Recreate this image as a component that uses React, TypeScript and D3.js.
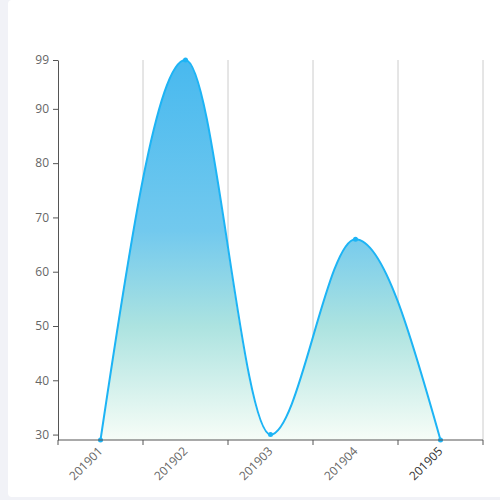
import React, { useEffect, useRef } from "react";
import * as d3 from "d3";

const categories = ["201901", "201902", "201903", "201904", "201905"];
const values = [29, 99, 30, 66, 29];
const yTicks = [30, 40, 50, 60, 70, 80, 90, 99];

const App: React.FC = () => {
  const ref = useRef<SVGSVGElement>(null);

  useEffect(() => {
    const root = d3.select(ref.current);
    root.selectAll("*").remove();

    const W = 500;
    const H = 500;
    const margin = { top: 60, right: 17, bottom: 60, left: 58 };
    const width = W - margin.left - margin.right;
    const height = H - margin.top - margin.bottom;

    // page background + card
    root.append("rect").attr("width", W).attr("height", H).attr("fill", "#f1f2f7");
    root
      .append("rect")
      .attr("x", 8)
      .attr("y", 0)
      .attr("width", 500)
      .attr("height", 497)
      .attr("rx", 4)
      .attr("fill", "#ffffff");

    const defs = root.append("defs");
    const grad = defs
      .append("linearGradient")
      .attr("id", "areaFill")
      .attr("x1", 0)
      .attr("y1", 0)
      .attr("x2", 0)
      .attr("y2", 1);
    grad.append("stop").attr("offset", "0%").attr("stop-color", "#48b9ef");
    grad.append("stop").attr("offset", "45%").attr("stop-color", "#72c9ee");
    grad.append("stop").attr("offset", "70%").attr("stop-color", "#ace3e0");
    grad.append("stop").attr("offset", "100%").attr("stop-color", "#f7fdf7");

    const svg = root
      .append("g")
      .attr("transform", `translate(${margin.left},${margin.top})`);

    const xScale = d3.scaleBand().domain(categories).range([0, width]).padding(0);
    const yScale = d3.scaleLinear().domain([29, 99]).range([height, 0]);

    // vertical grid lines at band boundaries
    svg
      .append("g")
      .selectAll("line")
      .data(categories)
      .join("line")
      .attr("x1", (d) => (xScale(d) as number) + xScale.bandwidth())
      .attr("x2", (d) => (xScale(d) as number) + xScale.bandwidth())
      .attr("y1", 0)
      .attr("y2", height)
      .attr("stroke", "#cccccc")
      .attr("stroke-width", 1);

    const cx = (d: number, i: number) =>
      (xScale(categories[i]) as number) + xScale.bandwidth() / 2;

    const area = d3
      .area<number>()
      .x((d, i) => cx(d, i))
      .y0(height)
      .y1((d) => yScale(d))
      .curve(d3.curveMonotoneX);

    const line = d3
      .line<number>()
      .x((d, i) => cx(d, i))
      .y((d) => yScale(d))
      .curve(d3.curveMonotoneX);

    svg.append("path").datum(values).attr("d", area).attr("fill", "url(#areaFill)");
    svg
      .append("path")
      .datum(values)
      .attr("d", line)
      .attr("fill", "none")
      .attr("stroke", "#1db4f5")
      .attr("stroke-width", 2);

    svg
      .append("g")
      .selectAll("circle")
      .data(values)
      .join("circle")
      .attr("cx", (d, i) => cx(d, i))
      .attr("cy", (d) => yScale(d))
      .attr("r", 2.5)
      .attr("fill", "#1db4f5");

    // y axis
    const yAxis = svg
      .append("g")
      .call(d3.axisLeft(yScale).tickValues(yTicks).tickSize(5).tickPadding(4).tickSizeOuter(0));
    yAxis.select(".domain").attr("stroke", "#555");
    yAxis.selectAll(".tick line").attr("stroke", "#555");
    yAxis
      .selectAll(".tick text")
      .attr("fill", "#666")
      .style("font-family", "'Open Sans', 'Noto Sans', sans-serif")
      .style("font-size", "12px");

    // x axis: ticks at band boundaries, labels at centres
    const xAxis = svg.append("g").attr("transform", `translate(0,${height})`);
    xAxis
      .append("line")
      .attr("x1", 0)
      .attr("x2", width)
      .attr("stroke", "#555");
    const bounds = [0, ...categories.map((d) => (xScale(d) as number) + xScale.bandwidth())];
    xAxis
      .selectAll("line.tk")
      .data(bounds)
      .join("line")
      .attr("class", "tk")
      .attr("x1", (d) => d)
      .attr("x2", (d) => d)
      .attr("y1", 0)
      .attr("y2", 5)
      .attr("stroke", "#555");
    xAxis
      .selectAll("text")
      .data(categories)
      .join("text")
      .attr(
        "transform",
        (d) => `translate(${(xScale(d) as number) + xScale.bandwidth() / 2},${9}) rotate(-45)`
      )
      .attr("text-anchor", "end")
      .attr("dy", "0.35em")
      .attr("fill", (d, i) => (i === categories.length - 1 ? "#333" : "#666"))
      .style("font-family", "'Open Sans', 'Noto Sans', sans-serif")
      .style("font-size", "12px")
      .text((d) => d);
  }, []);

  return (
    <svg
      ref={ref}
      width={500}
      height={500}
      style={{ position: "absolute", left: 0, top: 0 }}
    />
  );
};

export default App;
